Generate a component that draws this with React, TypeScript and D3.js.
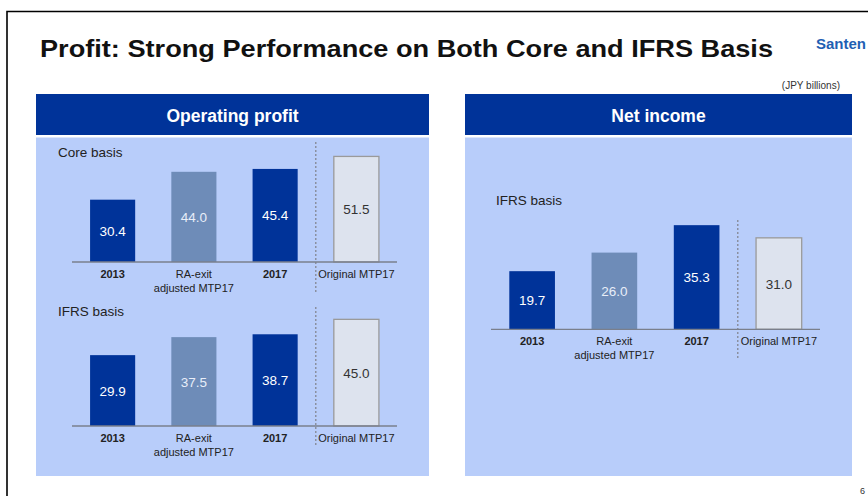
import React, { useEffect, useRef } from 'react';
import * as d3 from 'd3';

// values in JPY billions
const categories = ['2013', 'RA-exit|adjusted MTP17', '2017', 'Original MTP17'];
const boldCategories = ['2013', '2017'];
const coreOperatingProfit = [30.4, 44.0, 45.4, 51.5];
const ifrsOperatingProfit = [29.9, 37.5, 38.7, 45.0];
const ifrsNetIncome = [19.7, 26.0, 35.3, 31.0];

const DARK = '#003399';
const MID = '#6e8cb8';
const LIGHT = '#dde3ee';
const BODY = '#b8cdfa';
const FONT = '"Liberation Sans", Arial, sans-serif';

export default function App() {
  const ref = useRef(null);

  useEffect(() => {
    if (!ref.current) return;
    const svg = d3.select(ref.current);
    svg.selectAll('*').remove();

    // slide frame
    svg
      .append('path')
      .attr('d', 'M7,496 V11.5 H868')
      .attr('fill', 'none')
      .attr('stroke', '#000')
      .attr('stroke-width', 1.6);

    svg
      .append('text')
      .attr('x', 40)
      .attr('y', 57)
      .attr('font-family', FONT)
      .attr('font-weight', 'bold')
      .attr('font-size', 24.5)
      .attr('fill', '#111')
      .attr('textLength', 733)
      .attr('lengthAdjust', 'spacingAndGlyphs')
      .text('Profit: Strong Performance on Both Core and IFRS Basis');

    svg
      .append('text')
      .attr('x', 816)
      .attr('y', 49)
      .attr('font-family', '"Liberation Sans Narrow", ' + FONT)
      .attr('font-weight', 'bold')
      .attr('font-size', 15)
      .attr('fill', '#1f5fb3')
      .attr('textLength', 50)
      .attr('lengthAdjust', 'spacingAndGlyphs')
      .text('Santen');

    svg
      .append('text')
      .attr('x', 840)
      .attr('y', 89)
      .attr('text-anchor', 'end')
      .attr('font-family', FONT)
      .attr('font-size', 10)
      .attr('fill', '#333')
      .text('(JPY billions)');

    svg
      .append('text')
      .attr('x', 860)
      .attr('y', 494)
      .attr('font-family', FONT)
      .attr('font-size', 9)
      .attr('fill', '#333')
      .text('6');

    // panels
    const panels = [
      { x: 36, w: 393, title: 'Operating profit' },
      { x: 465, w: 387, title: 'Net income' },
    ];
    panels.forEach((p) => {
      svg.append('rect').attr('x', p.x).attr('y', 94).attr('width', p.w).attr('height', 41).attr('fill', DARK);
      svg.append('rect').attr('x', p.x).attr('y', 137.5).attr('width', p.w).attr('height', 338.5).attr('fill', BODY);
      svg
        .append('text')
        .attr('x', p.x + p.w / 2)
        .attr('y', 121.5)
        .attr('text-anchor', 'middle')
        .attr('font-family', FONT)
        .attr('font-weight', 'bold')
        .attr('font-size', 17.5)
        .attr('fill', '#fff')
        .text(p.title);
    });

    const charts = [
      { data: coreOperatingProfit, label: 'Core basis', x0: 72, x1: 397, base: 262, pxPerUnit: 2.05, labelX: 58, labelY: 156.5, dashTop: 142, dashBottom: 292 },
      { data: ifrsOperatingProfit, label: 'IFRS basis', x0: 72, x1: 397, base: 426, pxPerUnit: 2.37, labelX: 58, labelY: 315.5, dashTop: 307, dashBottom: 445 },
      { data: ifrsNetIncome, label: 'IFRS basis', x0: 491, x1: 820, base: 329.3, pxPerUnit: 2.95, labelX: 496, labelY: 204.5, dashTop: 220, dashBottom: 358 },
    ];

    charts.forEach((c) => {
      const g = svg.append('g');
      const x = d3
        .scaleBand()
        .domain(categories)
        .range([c.x0, c.x1])
        .paddingInner(0.445)
        .paddingOuter(0.2225);
      const y = d3
        .scaleLinear()
        .domain([0, 60])
        .range([c.base, c.base - 60 * c.pxPerUnit]);

      g.append('text')
        .attr('x', c.labelX)
        .attr('y', c.labelY)
        .attr('font-family', FONT)
        .attr('font-size', 13.5)
        .attr('fill', '#222')
        .text(c.label);

      // dashed separator before the original plan
      const sepX = (x(categories[2]) + x.bandwidth() + x(categories[3])) / 2;
      g.append('line')
        .attr('x1', sepX)
        .attr('x2', sepX)
        .attr('y1', c.dashTop)
        .attr('y2', c.dashBottom)
        .attr('stroke', '#8a90a0')
        .attr('stroke-width', 1.5)
        .attr('stroke-dasharray', '2,2');

      const fills = [DARK, MID, DARK, LIGHT];
      const textFills = ['#fff', '#e8eef8', '#fff', '#333'];

      g.selectAll('rect.bar')
        .data(c.data)
        .enter()
        .append('rect')
        .attr('class', 'bar')
        .attr('x', (d, i) => x(categories[i]))
        .attr('y', (d) => y(d))
        .attr('width', x.bandwidth())
        .attr('height', (d) => y(0) - y(d))
        .attr('fill', (d, i) => fills[i])
        .attr('stroke', (d, i) => (i === 3 ? '#9a9a9a' : 'none'))
        .attr('stroke-width', 1.3);

      g.selectAll('text.val')
        .data(c.data)
        .enter()
        .append('text')
        .attr('class', 'val')
        .attr('x', (d, i) => x(categories[i]) + x.bandwidth() / 2)
        .attr('y', (d) => (y(d) + y(0)) / 2 + 5)
        .attr('text-anchor', 'middle')
        .attr('font-family', FONT)
        .attr('font-size', 13.5)
        .attr('fill', (d, i) => textFills[i])
        .text((d) => d.toFixed(1));

      g.append('line')
        .attr('x1', c.x0)
        .attr('x2', c.x1)
        .attr('y1', y(0))
        .attr('y2', y(0))
        .attr('stroke', '#7a7f8c')
        .attr('stroke-width', 1.3);

      categories.forEach((cat) => {
        const lines = cat.split('|');
        lines.forEach((line, j) => {
          g.append('text')
            .attr('x', x(cat) + x.bandwidth() / 2)
            .attr('y', y(0) + 16 + j * 13.5)
            .attr('text-anchor', 'middle')
            .attr('font-family', FONT)
            .attr('font-size', 11)
            .attr('font-weight', boldCategories.includes(cat) ? 'bold' : 'normal')
            .attr('fill', '#222')
            .text(line);
        });
      });
    });
  }, []);

  return (
    <svg
      ref={ref}
      width={868}
      height={496}
      style={{ position: 'absolute', left: 0, top: 0, background: '#fff' }}
    />
  );
}
